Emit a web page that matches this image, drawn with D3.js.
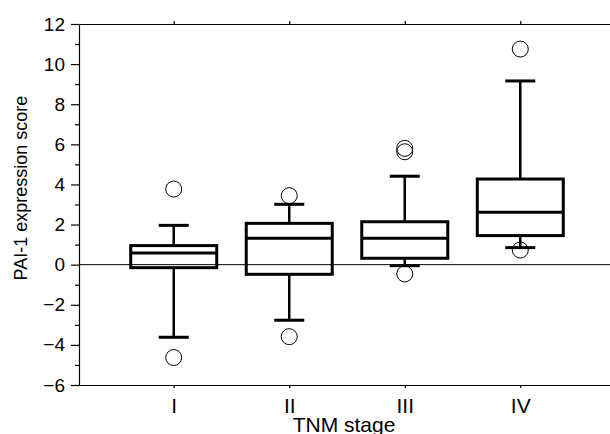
<!DOCTYPE html>
<html>
<head>
<meta charset="utf-8">
<script src="https://cdn.jsdelivr.net/npm/d3@7"></script>
<style>
  body { margin: 0; background: #fff; }
  svg { display: block; font-family: "Liberation Sans", Arial, Helvetica, sans-serif; }
</style>
</head>
<body>
<svg width="610" height="434"></svg>
<script>
// values
var stages = ["I", "II", "III", "IV"];
var q1 = [-0.15, -0.48, 0.32, 1.45];
var medians = [0.58, 1.32, 1.32, 2.61];
var q3 = [0.95, 2.06, 2.14, 4.27];
var whiskLo = [-3.62, -2.77, -0.05, 0.85];
var whiskHi = [1.96, 3.01, 4.41, 9.16];
var outliers = [[3.77, -4.63], [3.44, -3.59], [5.8, 5.63, -0.46], [10.75, 0.73]];
var yTicks = [-6, -4, -2, 0, 2, 4, 6, 8, 10, 12];
var yMinor = [-5, -3, -1, 1, 3, 5, 7, 9, 11];

var svg = d3.select("svg"),
    plotL = 79, plotR = 615, plotT = 24, plotB = 385;

var x = d3.scalePoint()
    .domain(stages)
    .range([plotL, plotR])
    .padding(0.82);

var y = d3.scaleLinear()
    .domain([-6, 12])
    .range([plotB, plotT]);

var boxes = stages.map(function(s, i) {
  return {stage: s, q1: q1[i], med: medians[i], q3: q3[i], lo: whiskLo[i], hi: whiskHi[i], out: outliers[i]};
});

// zero line
svg.append("line")
    .attr("x1", plotL).attr("x2", plotR)
    .attr("y1", y(0)).attr("y2", y(0))
    .attr("stroke", "black")
    .attr("stroke-width", 1);

// axes
var yAxis = svg.append("g")
    .attr("transform", "translate(" + plotL + ",0)")
    .call(d3.axisLeft(y).tickValues(yTicks).tickSize(8).tickSizeOuter(0).tickPadding(6));

svg.append("g")
    .attr("transform", "translate(" + plotL + ",0)")
    .call(d3.axisLeft(y).tickValues(yMinor).tickSize(4).tickFormat("").tickSizeOuter(0))
    .select(".domain").remove();

yAxis.selectAll("text").attr("font-size", 19).attr("fill", "black").attr("font-family", null);

var xAxis = svg.append("g")
    .attr("transform", "translate(0," + plotB + ")")
    .call(d3.axisBottom(x).tickSize(3).tickSizeOuter(0).tickPadding(10));
xAxis.selectAll("text").attr("font-size", 21).attr("fill", "black").attr("font-family", null);

svg.append("g")
    .attr("transform", "translate(0," + plotT + ")")
    .call(d3.axisTop(x).tickSize(3).tickSizeOuter(0).tickFormat(""));

svg.selectAll(".domain, .tick line")
    .attr("stroke", "black")
    .attr("stroke-width", 1.2);

// axis titles
svg.append("text")
    .attr("x", 344)
    .attr("y", 432)
    .attr("text-anchor", "middle")
    .attr("font-size", 21)
    .text("TNM stage");

svg.append("text")
    .attr("transform", "translate(27,188) rotate(-90)")
    .attr("text-anchor", "middle")
    .attr("font-size", 18)
    .text("PAI-1 expression score");

// box plots
var boxW = 86, capW = 30;
var g = svg.selectAll(".box")
    .data(boxes)
  .enter().append("g")
    .attr("class", "box");

g.append("line")
    .attr("x1", function(d) { return x(d.stage); })
    .attr("x2", function(d) { return x(d.stage); })
    .attr("y1", function(d) { return y(d.hi); })
    .attr("y2", function(d) { return y(d.q3); })
    .attr("stroke", "black").attr("stroke-width", 2.5);

g.append("line")
    .attr("x1", function(d) { return x(d.stage); })
    .attr("x2", function(d) { return x(d.stage); })
    .attr("y1", function(d) { return y(d.q1); })
    .attr("y2", function(d) { return y(d.lo); })
    .attr("stroke", "black").attr("stroke-width", 2.5);

g.selectAll(".cap")
    .data(function(d) { return [{s: d.stage, v: d.hi}, {s: d.stage, v: d.lo}]; })
  .enter().append("line")
    .attr("class", "cap")
    .attr("x1", function(d) { return x(d.s) - capW / 2; })
    .attr("x2", function(d) { return x(d.s) + capW / 2; })
    .attr("y1", function(d) { return y(d.v); })
    .attr("y2", function(d) { return y(d.v); })
    .attr("stroke", "black").attr("stroke-width", 3);

g.append("rect")
    .attr("x", function(d) { return x(d.stage) - boxW / 2; })
    .attr("width", boxW)
    .attr("y", function(d) { return y(d.q3); })
    .attr("height", function(d) { return y(d.q1) - y(d.q3); })
    .attr("fill", "none")
    .attr("stroke", "black")
    .attr("stroke-width", 3);

g.append("line")
    .attr("x1", function(d) { return x(d.stage) - boxW / 2; })
    .attr("x2", function(d) { return x(d.stage) + boxW / 2; })
    .attr("y1", function(d) { return y(d.med); })
    .attr("y2", function(d) { return y(d.med); })
    .attr("stroke", "black").attr("stroke-width", 3);

g.selectAll("circle")
    .data(function(d) { return d.out.map(function(v) { return {s: d.stage, v: v}; }); })
  .enter().append("circle")
    .attr("cx", function(d) { return x(d.s); })
    .attr("cy", function(d) { return y(d.v); })
    .attr("r", 8)
    .attr("fill", "none")
    .attr("stroke", "black")
    .attr("stroke-width", 1);
</script>
</body>
</html>
